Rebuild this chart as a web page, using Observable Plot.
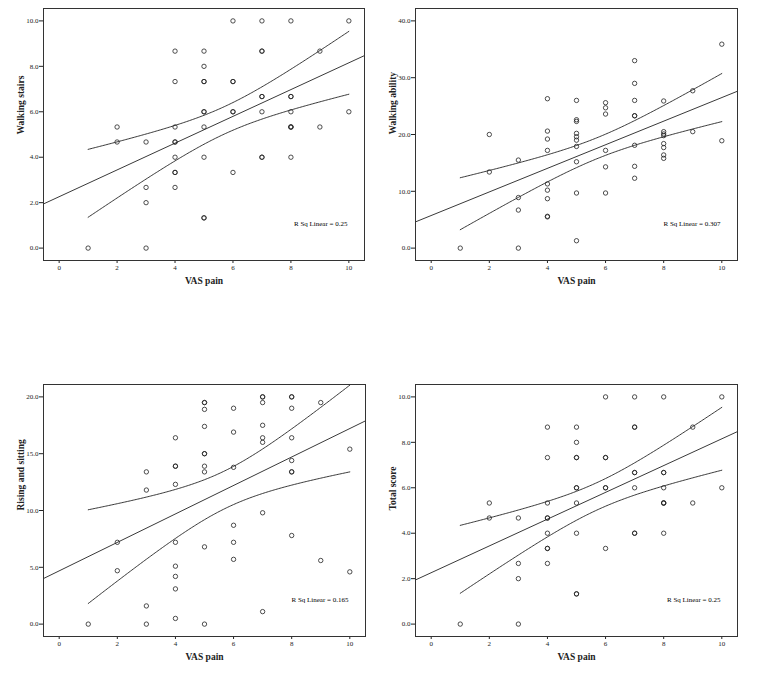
<!DOCTYPE html>
<html><head><meta charset="utf-8">
<script src="https://cdn.jsdelivr.net/npm/d3@7"></script>
<script src="https://cdn.jsdelivr.net/npm/@observablehq/plot@0.6"></script>
<style>
body{margin:0;background:#fff;}
#wrap{position:relative;width:759px;height:693px;overflow:hidden;background:#fff}
.panel{position:absolute}
</style></head><body><div id="wrap"></div>
<script>
// ---------- data ----------
const xLabel = "VAS pain";
const xTicks = [0, 2, 4, 6, 8, 10];

const stairsX = [1, 2,2, 3,3,3,3, 4,4,4,4,4,4,4,4,4, 5,5,5,5,5,5,5,5,5,5, 6,6,6,6,6,6, 7,7,7,7,7,7,7,7, 8,8,8,8,8,8,8,8, 9,9, 10,10];
const stairsY = [0, 5.33,4.67, 4.67,2.67,2,0, 8.67,7.33,5.33,4.67,4.67,4,3.33,3.33,2.67, 8.67,8,7.33,7.33,6,6,5.33,4,1.33,1.33, 10,7.33,7.33,6,6,3.33, 10,8.67,8.67,6.67,6.67,6,4,4, 10,6.67,6.67,6,5.33,5.33,5.33,4, 8.67,5.33, 10,6];

const abilityX = [1, 2,2, 3,3,3,3, 4,4,4,4,4,4,4,4,4, 5,5,5,5,5,5,5,5,5,5, 6,6,6,6,6,6, 7,7,7,7,7,7,7,7, 8,8,8,8,8,8,8,8, 9,9, 10,10];
const abilityY = [0, 20,13.4, 15.5,8.9,6.7,0, 26.3,20.6,19.2,17.2,11.3,10.2,8.7,5.6,5.5, 26,22.6,22.3,20.2,19.6,19,17.9,15.2,9.7,1.3, 25.6,24.7,23.6,17.2,14.3,9.7, 33,29,26,23.3,23.3,18.1,14.4,12.3, 25.9,20.5,20.1,19.8,18.4,17.7,16.4,15.8, 27.7,20.5, 35.9,18.9];

const risingX = [1, 2,2, 3,3,3,3, 4,4,4,4,4,4,4,4,4, 5,5,5,5,5,5,5,5,5,5, 6,6,6,6,6,6, 7,7,7,7,7,7,7,7, 8,8,8,8,8,8,8,8, 9,9, 10,10];
const risingY = [0, 7.2,4.7, 13.4,11.8,1.6,0, 16.4,13.9,13.9,12.3,7.2,5.1,4.2,3.1,0.5, 19.5,19.5,18.9,17.4,15,15,13.9,13.4,6.8,0, 19,16.9,13.8,8.7,7.2,5.7, 20,20,19.5,17.5,16.4,16,9.8,1.1, 20,20,19,16.4,14.4,13.4,13.4,7.8, 19.5,5.6, 15.4,4.6];

const totalX = [1, 2,2, 3,3,3,3, 4,4,4,4,4,4,4,4,4, 5,5,5,5,5,5,5,5,5,5, 6,6,6,6,6,6, 7,7,7,7,7,7,7,7, 8,8,8,8,8,8,8,8, 9,9, 10,10];
const totalY = [0, 5.33,4.67, 4.67,2.67,2,0, 8.67,7.33,5.33,4.67,4.67,4,3.33,3.33,2.67, 8.67,8,7.33,7.33,6,6,5.33,4,1.33,1.33, 10,7.33,7.33,6,6,3.33, 10,8.67,8.67,6.67,6.67,6,4,4, 10,6.67,6.67,6,5.33,5.33,5.33,4, 8.67,5.33, 10,6];

const yTitles = ["Walking stairs", "Walking ability", "Rising and sitting", "Total score"];
const rsqLabels = ["R Sq Linear = 0.25", "R Sq Linear = 0.307", "R Sq Linear = 0.165", "R Sq Linear = 0.25"];
const yTickSets = [[0,2,4,6,8,10], [0,10,20,30,40], [0,5,10,15,20], [0,2,4,6,8,10]];
const yDomains = [[-0.546,10.546], [-2.18,42.18], [-1.09,21.09], [-0.546,10.546]];

// ---------- helpers ----------
function regression(xs, ys) {
  const n = xs.length, mx = d3.mean(xs), my = d3.mean(ys);
  let sxx = 0, sxy = 0;
  for (let i = 0; i < n; i++) { sxx += (xs[i]-mx)**2; sxy += (xs[i]-mx)*(ys[i]-my); }
  const b = sxy / sxx, a = my - b * mx;
  let sse = 0;
  for (let i = 0; i < n; i++) sse += (ys[i] - (a + b*xs[i]))**2;
  const s = Math.sqrt(sse / (n - 2));
  return {n, mx, sxx, a, b, s, t: 2.009};
}

function makePanel(xs, ys, i, pos) {
  const data = xs.map((x, k) => ({x, y: ys[k]}));
  const r = regression(xs, ys);
  const xDom = [-0.54, 10.54];
  const fit = xDom.map(x => ({x, y: r.a + r.b * x}));
  const [x0, x1] = d3.extent(xs);
  const band = d3.range(x0, x1 + 1e-9, 0.05).map(x => {
    const yh = r.a + r.b * x;
    const h = r.t * r.s * Math.sqrt(1 / r.n + (x - r.mx) ** 2 / r.sxx);
    return {x, lo: yh - h, hi: yh + h};
  });
  const ink = "#222";
  const chart = Plot.plot({
    width: pos.w, height: pos.h,
    marginLeft: pos.ml, marginRight: pos.mr, marginTop: pos.mt, marginBottom: pos.mb,
    style: {fontFamily: "'Liberation Serif', 'DejaVu Serif', serif", fontSize: "7px", color: ink, background: "#fff"},
    x: {domain: xDom},
    y: {domain: yDomains[i]},
    marks: [
      Plot.axisX({ticks: xTicks, tickSize: 3, tickPadding: 2, label: null, fontSize: 7}),
      Plot.axisY({ticks: yTickSets[i], tickFormat: ".1f", tickSize: 4, tickPadding: 1, label: null, fontSize: 7}),
      Plot.line(band, {x: "x", y: "lo", stroke: ink, strokeWidth: 0.9, clip: true}),
      Plot.line(band, {x: "x", y: "hi", stroke: ink, strokeWidth: 0.9, clip: true}),
      Plot.line(fit, {x: "x", y: "y", stroke: ink, strokeWidth: 0.9, clip: true}),
      Plot.dot(data, {x: "x", y: "y", r: 2.2, stroke: ink, strokeWidth: 0.8, fill: "none"}),
      Plot.frame({stroke: "#333", strokeWidth: 1}),
      Plot.text([rsqLabels[i]], {frameAnchor: "bottom-right", textAnchor: "end", dx: -17, dy: -35, fontSize: 7, fill: "#000"}),
      Plot.text([xLabel], {frameAnchor: "bottom", dy: 23, fontWeight: "bold", fontSize: 9.5, fill: ink}),
      Plot.text([yTitles[i]], {frameAnchor: "left", rotate: -90, dx: -23, fontWeight: "bold", fontSize: 9.5, fill: ink})
    ]
  });
  const div = document.createElement("div");
  div.className = "panel";
  div.style.left = pos.left + "px";
  div.style.top = pos.top + "px";
  div.appendChild(chart);
  document.getElementById("wrap").appendChild(div);
}

const layout = [
  {left: 0,   top: 0,   w: 380, h: 300, ml: 43, mr: 16, mt: 8,  mb: 40},
  {left: 380, top: 0,   w: 379, h: 300, ml: 35, mr: 22, mt: 8,  mb: 40},
  {left: 0,   top: 370, w: 380, h: 323, ml: 43, mr: 15, mt: 14, mb: 57},
  {left: 380, top: 370, w: 379, h: 323, ml: 35, mr: 22, mt: 14, mb: 57}
];

makePanel(stairsX, stairsY, 0, layout[0]);
makePanel(abilityX, abilityY, 1, layout[1]);
makePanel(risingX, risingY, 2, layout[2]);
makePanel(totalX, totalY, 3, layout[3]);
</script>
</body></html>
